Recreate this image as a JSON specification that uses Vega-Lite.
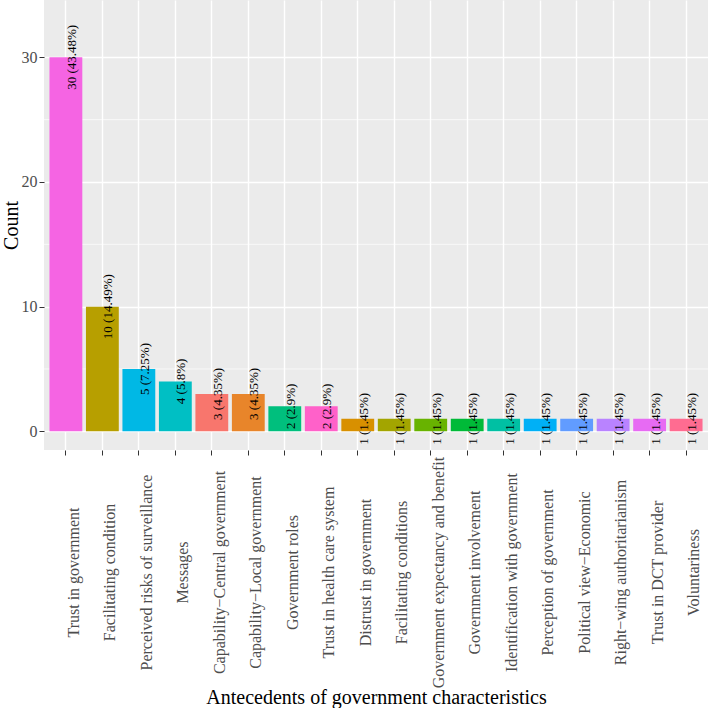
{
  "$schema": "https://vega.github.io/schema/vega-lite/v6.json",
  "width": 664,
  "height": 450,
  "autosize": "none",
  "padding": {"left": 44, "top": 0, "right": 0, "bottom": 258},
  "background": "white",
  "data": {
    "values": [
      {"Antecedent": "Trust in government", "Count": 30, "label": "30 (43.48%)"},
      {"Antecedent": "Facilitating condition", "Count": 10, "label": "10 (14.49%)"},
      {"Antecedent": "Perceived risks of surveillance", "Count": 5, "label": "5 (7.25%)"},
      {"Antecedent": "Messages", "Count": 4, "label": "4 (5.8%)"},
      {"Antecedent": "Capability−Central government", "Count": 3, "label": "3 (4.35%)"},
      {"Antecedent": "Capability−Local government", "Count": 3, "label": "3 (4.35%)"},
      {"Antecedent": "Government roles", "Count": 2, "label": "2 (2.9%)"},
      {"Antecedent": "Trust in health care system", "Count": 2, "label": "2 (2.9%)"},
      {"Antecedent": "Distrust in government", "Count": 1, "label": "1 (1.45%)"},
      {"Antecedent": "Facilitating conditions", "Count": 1, "label": "1 (1.45%)"},
      {"Antecedent": "Government expectancy and benefit", "Count": 1, "label": "1 (1.45%)"},
      {"Antecedent": "Government involvement", "Count": 1, "label": "1 (1.45%)"},
      {"Antecedent": "Identification with government", "Count": 1, "label": "1 (1.45%)"},
      {"Antecedent": "Perception of government", "Count": 1, "label": "1 (1.45%)"},
      {"Antecedent": "Political view−Economic", "Count": 1, "label": "1 (1.45%)"},
      {"Antecedent": "Right−wing authoritarianism", "Count": 1, "label": "1 (1.45%)"},
      {"Antecedent": "Trust in DCT provider", "Count": 1, "label": "1 (1.45%)"},
      {"Antecedent": "Voluntariness", "Count": 1, "label": "1 (1.45%)"}
    ]
  },
  "encoding": {
    "y": {
      "field": "Count",
      "type": "quantitative",
      "title": "Count",
      "scale": {"domain": [-1.5, 34.6], "nice": false, "zero": false},
      "axis": {
        "values": [0, 10, 20, 30],
        "grid": true,
        "gridColor": "white",
        "gridWidth": 1.4,
        "titleX": -27,
        "titleY": 225,
        "titleAngle": 270,
        "titleBaseline": "alphabetic",
        "titleAlign": "center"
      }
    }
  },
  "layer": [
    {
      "data": {"values": [{"Count": 5}, {"Count": 15}, {"Count": 25}]},
      "mark": {"type": "rule", "color": "white", "strokeWidth": 0.7}
    },
    {
      "mark": {"type": "bar"},
      "encoding": {
        "x": {
          "field": "Antecedent",
          "type": "nominal",
          "sort": null,
          "title": "Antecedents of government characteristics",
          "scale": {"paddingInner": 0.1, "paddingOuter": 0.15},
          "axis": {
            "labelAngle": 270,
            "labelAlign": "center",
            "labelBaseline": "top",
            "labelPadding": 117,
            "labelLimit": 0,
            "labelOverlap": false,
            "grid": true,
            "gridColor": "white",
            "gridWidth": 1.4,
            "titleX": 332,
            "titleY": 253,
            "titleBaseline": "alphabetic",
            "titleAlign": "center"
          }
        },
        "color": {
          "field": "Antecedent",
          "type": "nominal",
          "legend": null,
          "scale": {
            "domain": [
              "Trust in government", "Facilitating condition", "Perceived risks of surveillance", "Messages",
              "Capability−Central government", "Capability−Local government", "Government roles",
              "Trust in health care system", "Distrust in government", "Facilitating conditions",
              "Government expectancy and benefit", "Government involvement", "Identification with government",
              "Perception of government", "Political view−Economic", "Right−wing authoritarianism",
              "Trust in DCT provider", "Voluntariness"
            ],
            "range": [
              "#F564E3", "#B79F00", "#00B8E5", "#00BFC4", "#F8766D", "#E8852A", "#00BF7D",
              "#FF61C9", "#D89000", "#A3A500", "#68B300", "#00BA38", "#00C0A3",
              "#00B0F6", "#619CFF", "#B983FF", "#E76BF3", "#FF6C91"
            ]
          }
        }
      }
    },
    {
      "mark": {"type": "text", "angle": 270, "align": "center", "baseline": "top", "fontSize": 13, "color": "black"},
      "encoding": {
        "x": {"field": "Antecedent", "type": "nominal", "sort": null},
        "text": {"field": "label"}
      }
    }
  ],
  "config": {
    "font": "Liberation Serif",
    "view": {"fill": "#EBEBEB", "stroke": null},
    "axis": {
      "domain": false,
      "tickColor": "#333333",
      "tickSize": 5,
      "tickWidth": 1,
      "labelFont": "Liberation Serif",
      "labelFontSize": 16,
      "labelColor": "#4D4D4D",
      "labelPadding": 2,
      "titleFont": "Liberation Serif",
      "titleFontSize": 20,
      "titleFontWeight": "normal",
      "titleColor": "black"
    },
    "text": {"font": "Liberation Serif"}
  }
}
